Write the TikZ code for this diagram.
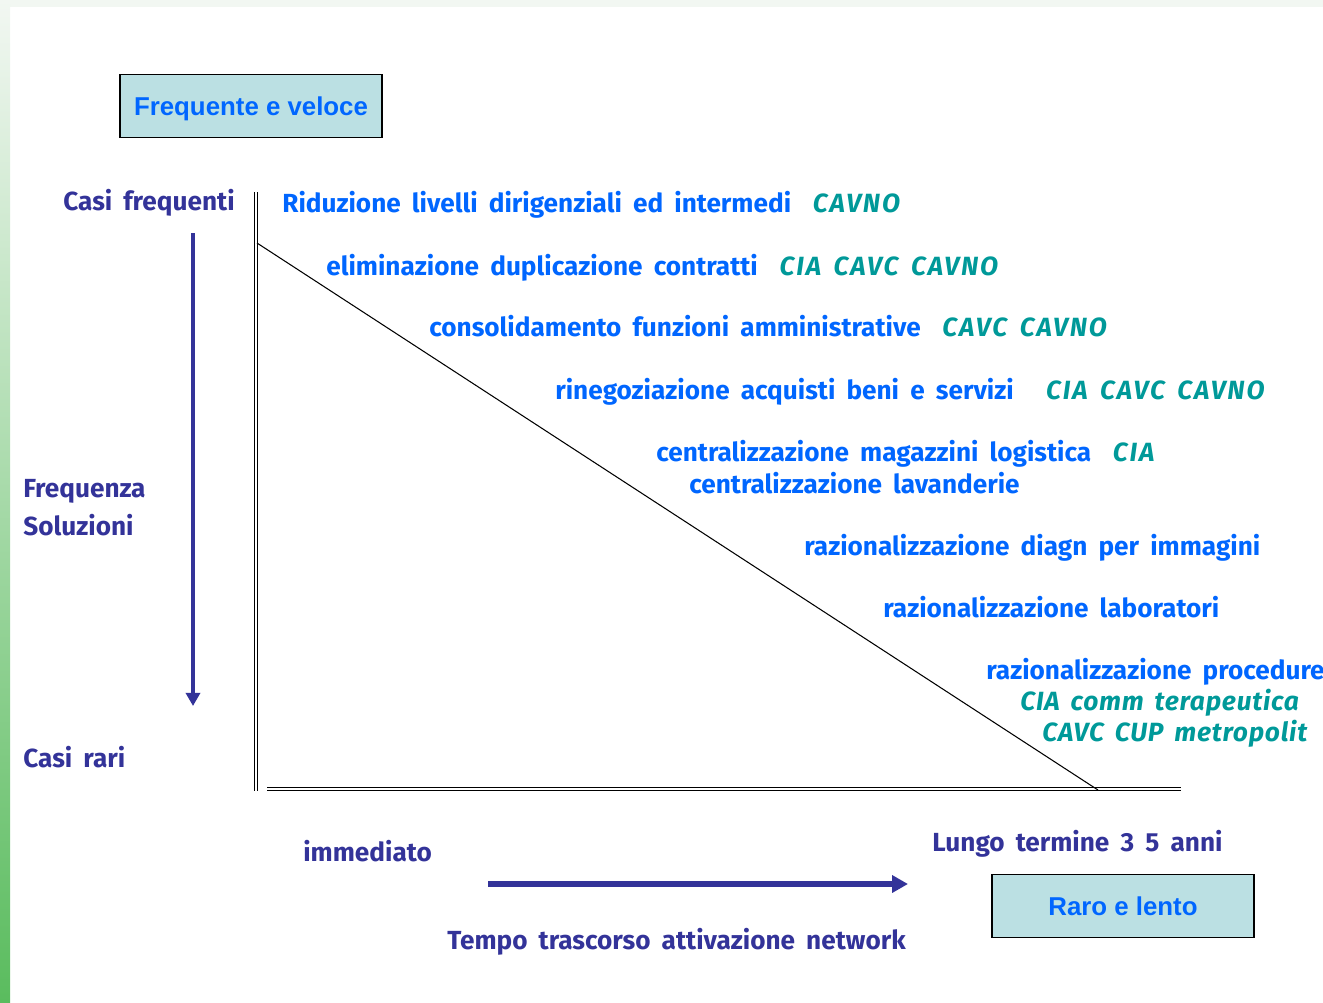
\documentclass[tikz,border=0pt]{standalone}
\usepackage{fontspec}
\setmainfont{Liberation Sans}
\newfontfamily\comicfont[WordSpace=1.8]{Fira Sans}
\newfontfamily\siglafont[WordSpace=1.6,LetterSpace=7]{Fira Sans}
\newfontfamily\entefont[WordSpace=1.6,LetterSpace=3]{Fira Sans}
\usetikzlibrary{positioning,arrows.meta}
\definecolor{darkblu}{HTML}{333399}
\definecolor{itemblu}{HTML}{0066FF}
\definecolor{orgteal}{HTML}{009999}
\definecolor{boxfill}{HTML}{BBE0E3}
\definecolor{bandgrey}{HTML}{F2F7F2}
\definecolor{stripgreen}{HTML}{5ABC5E}

\begin{document}
\begin{tikzpicture}[x=0.02cm,y=-0.02cm]
  \tikzstyle{every node}=[inner sep=0pt]
  \tikzstyle{testo}=[anchor=west,text height=10.3pt,text depth=0pt]
  \tikzstyle{voce}=[testo,text=itemblu,font=\comicfont\bfseries\fontsize{14.9}{17}\selectfont]
  \tikzstyle{ente}=[testo,text=orgteal,font=\entefont\bfseries\itshape\fontsize{15}{17}\selectfont]
  \tikzstyle{sigla}=[ente,font=\siglafont\bfseries\itshape\fontsize{15}{17}\selectfont]
  \tikzstyle{asse}=[testo,text=darkblu,font=\comicfont\bfseries\fontsize{14.9}{17}\selectfont]
  \tikzstyle{scatola}=[draw,line width=0.8pt,fill=boxfill,minimum width=263*0.567pt,minimum height=63*0.567pt,text height=10.5pt,text depth=0pt,text=itemblu,font=\bfseries\fontsize{14.7}{17}\selectfont]
  \tikzstyle{doppia}=[double,double distance=1.4pt,line width=0.6pt]
  \tikzstyle{freccia}=[darkblu,line width=2.4pt,-{Triangle[length=7.5pt,width=8pt]}]

  \useasboundingbox (0,0) rectangle (1323,1002);
  \clip (0,0) rectangle (1323,1002);
  % fondo
  \fill[bandgrey] (0,0) rectangle (1323,7);
  \shade[top color=bandgrey,bottom color=stripgreen] (0,0) rectangle (10,1002);

  % riquadri
  \node[scatola] (veloce) at (251,106) {Frequente e veloce};
  \node[scatola] (lento) at (1123,906) {Raro e lento};

  % assi
  \coordinate (vtop) at (256,192);
  \coordinate (vbot) at (256,791);
  \coordinate (hsx) at (267,789);
  \coordinate (hdx) at (1181,789);
  \coordinate (dtop) at (257,243);
  \coordinate (dbot) at (1098,790);
  \draw[doppia] (vtop) -- (vbot);
  \draw[doppia] (hsx) -- (hdx);
  \draw[line width=0.6pt] (dtop) -- (dbot);

  % frecce
  \coordinate (fa) at (193,233);
  \coordinate (fb) at (193,706);
  \draw[freccia] (fa) -- (fb);
  \coordinate (ta) at (488,884);
  \coordinate (tb) at (908,884);
  \draw[freccia,line width=3pt,-{Triangle[length=9pt,width=9.5pt]}] (ta) -- (tb);

  % etichette assi
  \node[asse,anchor=east] (frequenti) at (235,201) {Casi frequenti};
  \node[asse] (frequenza) at (23,488) {Frequenza};
  \node[asse] (soluzioni) at (23,526) {Soluzioni};
  \node[asse] (rari) at (23,758) {Casi rari};
  \node[asse] (immediato) at (303,852) {immediato};
  \node[asse] (lungo) at (932,842) {Lungo termine 3 5 anni};
  \node[asse] (tempo) at (447,940) {Tempo trascorso attivazione network};

  % soluzioni
  \node[voce] (v1) at (282,203) {Riduzione livelli dirigenziali ed intermedi};
  \node[sigla,right=12pt of v1] (e1) {CAVNO};
  \node[voce] (v2) at (326,266) {eliminazione duplicazione contratti};
  \node[sigla,right=12pt of v2] (e2) {CIA CAVC CAVNO};
  \node[voce] (v3) at (429,327) {consolidamento funzioni amministrative};
  \node[sigla,right=12pt of v3] (e3) {CAVC CAVNO};
  \node[voce] (v4) at (555,390) {rinegoziazione acquisti beni e servizi};
  \node[sigla,right=18pt of v4] (e4) {CIA CAVC CAVNO};
  \node[voce] (v5) at (656,452) {centralizzazione magazzini logistica};
  \node[sigla,right=12pt of v5] (e5) {CIA};
  \node[voce] (v6) at (689,484) {centralizzazione lavanderie};
  \node[voce] (v7) at (804,546) {razionalizzazione diagn per immagini};
  \node[voce] (v8) at (883,608) {razionalizzazione laboratori};
  \node[voce] (v9) at (986,670) {razionalizzazione procedure};
  \node[ente] (e9) at (1020,701) {CIA comm terapeutica};
  \node[ente] (e10) at (1042,732) {CAVC CUP metropolit};
\end{tikzpicture}
\end{document}
